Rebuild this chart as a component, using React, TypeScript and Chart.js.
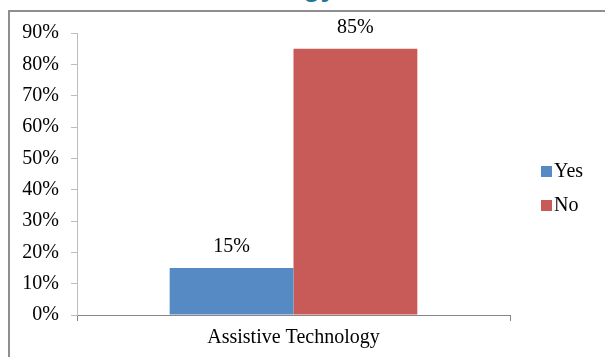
import React, { useEffect, useRef } from "react";
import { Chart, registerables } from "chart.js";

Chart.register(...registerables);

const categories = ["Assistive Technology"];
const seriesNames = ["Yes", "No"];
const yesValues = [15];
const noValues = [85];
const yMax = 90;
const yStep = 10;
const colors = ["#558AC4", "#C85B58"];
const FONT = "'Liberation Serif', 'Times New Roman', serif";
const FS = 20;

const valueLabels = {
  id: "valueLabels",
  afterDatasetsDraw(chart: any) {
    const ctx = chart.ctx;
    ctx.save();
    ctx.font = `${FS}px ${FONT}`;
    ctx.fillStyle = "#000";
    ctx.textAlign = "center";
    ctx.textBaseline = "middle";
    chart.data.datasets.forEach((ds: any, i: number) => {
      const meta = chart.getDatasetMeta(i);
      meta.data.forEach((el: any, j: number) => {
        ctx.fillText(ds.data[j] + "%", el.x, el.y - 21);
      });
    });
    ctx.restore();
  },
};

const sideLegend = {
  id: "sideLegend",
  afterDraw(chart: any) {
    const ctx = chart.ctx;
    ctx.save();
    ctx.font = `${FS}px ${FONT}`;
    ctx.textAlign = "left";
    ctx.textBaseline = "middle";
    chart.data.datasets.forEach((ds: any, i: number) => {
      const y = 166 + i * 34;
      ctx.fillStyle = ds.backgroundColor;
      ctx.fillRect(541, y, 11, 11);
      ctx.fillStyle = "#000";
      ctx.fillText(ds.label, 554, y + 6);
    });
    ctx.restore();
  },
};

export default function App() {
  const ref = useRef<HTMLCanvasElement | null>(null);
  useEffect(() => {
    if (!ref.current) return;
    const chart = new Chart(ref.current, {
      type: "bar",
      data: {
        labels: categories,
        datasets: [
          { label: seriesNames[0], data: yesValues, backgroundColor: colors[0], barPercentage: 1, categoryPercentage: 0.572 },
          { label: seriesNames[1], data: noValues, backgroundColor: colors[1], barPercentage: 1, categoryPercentage: 0.572 },
        ],
      },
      options: {
        responsive: false,
        animation: false,
        layout: { padding: { left: 0, top: 33, right: 95, bottom: 0 } },
        plugins: { legend: { display: false }, tooltip: { enabled: false } },
        scales: {
          x: {
            offset: true,
            grid: { display: true, drawOnChartArea: false, drawTicks: true, tickLength: 6, color: "#868686", offset: true },
            border: { display: true, color: "#868686", width: 1 },
            ticks: { color: "#000", font: { family: FONT, size: FS }, padding: 5 },
            afterFit: (s: any) => { s.height = 42; },
          },
          y: {
            min: 0,
            max: yMax,
            grid: { display: true, drawOnChartArea: false, drawTicks: true, tickLength: 6, color: "#BDBDBD" },
            border: { display: true, color: "#BDBDBD", width: 1 },
            ticks: {
              stepSize: yStep,
              color: "#000",
              font: { family: FONT, size: FS },
              padding: 12,
              callback: (v: any) => v + "%",
            },
            afterFit: (s: any) => { s.width = 77; },
          },
        },
      },
      plugins: [valueLabels, sideLegend],
    });
    return () => chart.destroy();
  }, []);

  return (
    <div style={{ position: "fixed", left: 0, top: 0, width: 605, height: 357, overflow: "hidden", background: "#fff" }}>
      <div
        style={{
          position: "absolute",
          left: 0,
          top: -27,
          width: 336,
          textAlign: "right",
          fontFamily: "'Liberation Sans', Arial, sans-serif",
          fontWeight: "bold",
          fontSize: 28,
          lineHeight: "28px",
          color: "#1B7896",
          whiteSpace: "nowrap",
        }}
      >
        Assistive Technology
      </div>
      <div
        style={{
          position: "absolute",
          left: 8,
          top: 10,
          width: 700,
          height: 500,
          border: "2px solid #8F8F8F",
          background: "#fff",
        }}
      />
      <canvas ref={ref} width={605} height={357} style={{ position: "absolute", left: 0, top: 0, width: 605, height: 357 }} />
    </div>
  );
}
